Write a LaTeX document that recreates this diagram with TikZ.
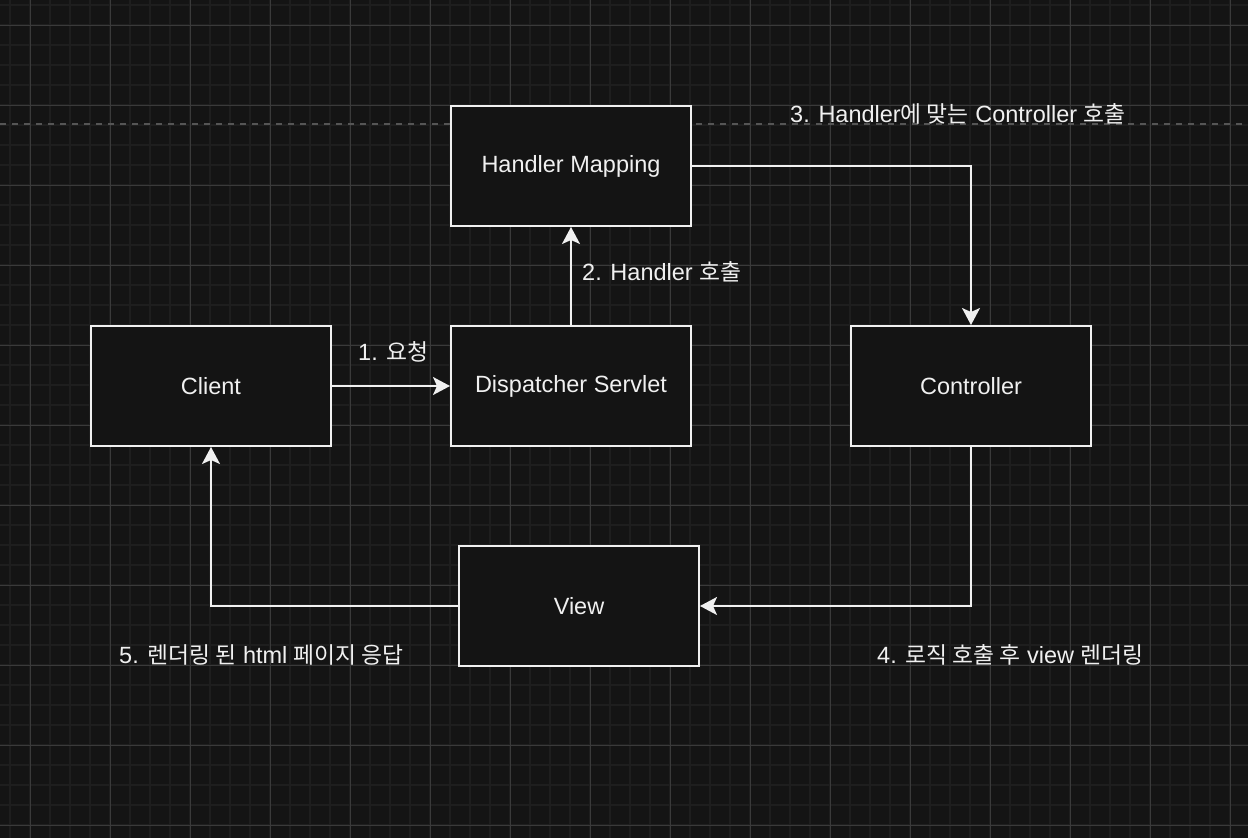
\documentclass[tikz,border=0pt]{standalone}
\usepackage{fontspec}
\setmainfont{Liberation Sans}
\newfontfamily\kr[Scale=0.97]{Noto Sans CJK KR}
\usetikzlibrary{arrows.meta}
\definecolor{bg}{HTML}{141414}
\definecolor{minorgrid}{HTML}{1E1E1E}
\definecolor{majorgrid}{HTML}{3A3A3A}
\definecolor{fg}{HTML}{F0F0F0}
\definecolor{dashc}{HTML}{555555}
\begin{document}
\begin{tikzpicture}[x=1pt,y=-1pt,
  box/.style={draw=fg, line width=2pt, fill=bg, minimum width=240pt, minimum height=120pt, inner sep=0pt, text=fg, font=\fontsize{23.5}{28}\selectfont},
  lbl/.style={anchor=base west, inner sep=0pt, text=fg, font=\fontsize{23.5}{28}\selectfont},
  conn/.style={draw=fg, line width=2pt, -{Stealth[length=17pt,width=18pt,inset=4pt]}},
  minorline/.style={draw=minorgrid, line width=2pt},
  majorline/.style={draw=majorgrid, line width=1pt},
  dashline/.style={draw=dashc, line width=2pt, dash pattern=on 6pt off 6pt}]
\fill[bg] (0,0) rectangle (1248,838);
\useasboundingbox (0,0) rectangle (1248,838);
\foreach \x in {10,30,...,1250} \draw[minorline] (\x,0) -- (\x,838);
\foreach \y in {5,25,...,835} \draw[minorline] (0,\y) -- (1248,\y);
\foreach \x in {30,110,...,1230} \draw[majorline] (\x,0) -- (\x,838);
\foreach \y in {25,105,...,825} \draw[majorline] (0,\y) -- (1248,\y);
\draw[dashline] (0,124) -- (1248,124);
\node[box] (hm) at (571,166) {Handler Mapping};
\node[box] (cl) at (211,386) {Client};
\node[box] (ds) at (571,386) {Dispatcher Servlet};
\node[box] (ct) at (971,386) {Controller};
\node[box] (vw) at (579,606) {View};
\draw[conn] (cl) -- (ds);
\draw[conn] (ds) -- (hm);
\draw[conn] (hm.east) -| (ct.north);
\draw[conn] (ct.south) |- (vw.east);
\draw[conn] (vw.west) -| (cl.south);
\node[lbl] (l1) at (358,360) {1. {\kr 요청}};
\node[lbl] (l2) at (582,280) {2. Handler {\kr 호출}};
\node[lbl] (l3) at (790,122) {3. Handler{\kr 에 맞는} Controller {\kr 호출}};
\node[lbl] (l4) at (877,663) {4. {\kr 로직 호출 후} view {\kr 렌더링}};
\node[lbl] (l5) at (119,663) {5. {\kr 렌더링 된} html {\kr 페이지 응답}};
\end{tikzpicture}
\end{document}
